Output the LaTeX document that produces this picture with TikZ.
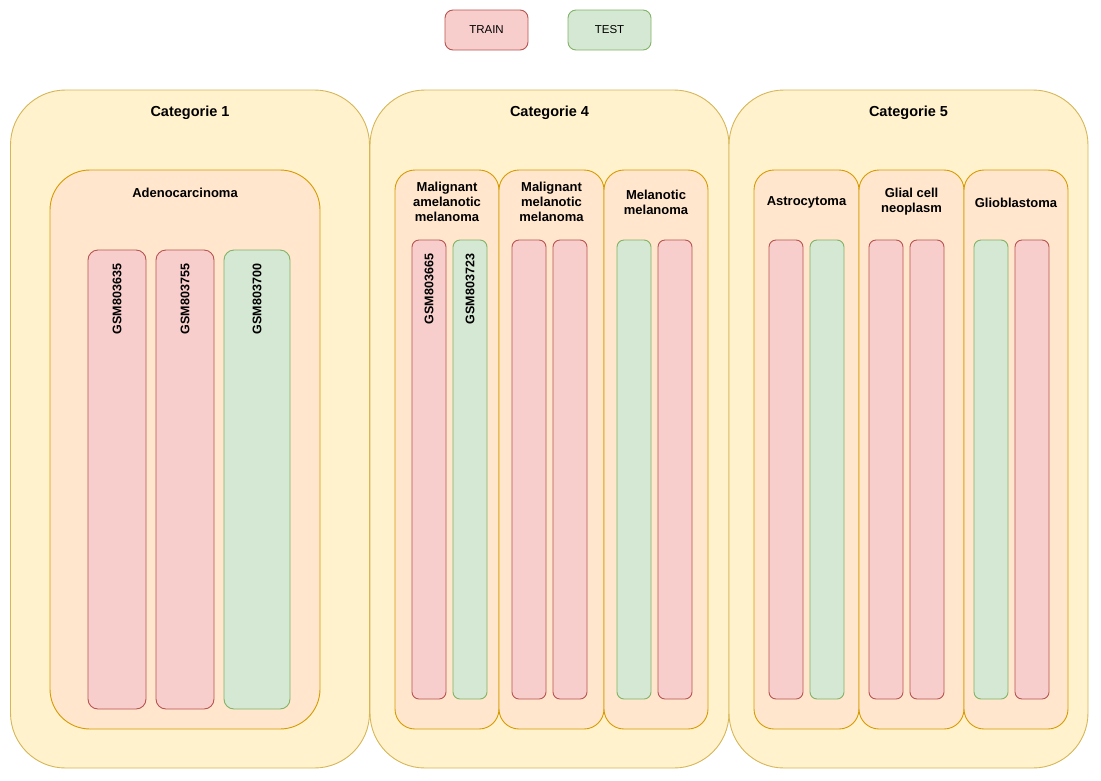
\documentclass[tikz,border=0pt]{standalone}
\usepackage{fontspec}
\setmainfont{Liberation Sans}
\usepackage{tikz}
\usetikzlibrary{calc}
\definecolor{catfill} {HTML} {FFF2CC}
\definecolor{catdraw} {HTML} {D6B656}
\definecolor{grpfill} {HTML} {FFE6CC}
\definecolor{grpdraw} {HTML} {D79B00}
\definecolor{trainfill} {HTML} {F8CECC}
\definecolor{traindraw} {HTML} {B85450}
\definecolor{testfill} {HTML} {D5E8D4}
\definecolor{testdraw} {HTML} {82B366}
\tikzstyle{split}=[
  x=1pt, y=-1pt, line width=0.9pt,
  every node/.style={inner sep=0pt, outer sep=0pt}
]
\tikzstyle{catbox}=[
  draw=catdraw, fill=catfill, rounded corners=55pt,
  minimum width=359pt, minimum height=678pt
]
\tikzstyle{grpbox}=[
  draw=grpdraw, fill=grpfill, rounded corners=20pt,
  minimum width=104pt, minimum height=559pt
]
\tikzstyle{train}=[
  draw=traindraw, fill=trainfill, rounded corners=7pt,
  minimum width=34pt, minimum height=459pt
]
\tikzstyle{test}=[
  train, draw=testdraw, fill=testfill
]
\tikzstyle{cattitle}=[
  font=\fontsize{14.5}{17}\selectfont\bfseries, yshift=-2pt
]
\tikzstyle{grptitle}=[
  font=\fontsize{13}{15}\selectfont\bfseries, align=center, yshift=-1.5pt
]
\tikzstyle{sample}=[
  font=\fontsize{12.5}{14}\selectfont\bfseries, rotate=90, anchor=east
]
\tikzstyle{legend}=[
  rounded corners=8pt, minimum width=83pt, minimum height=40pt,
  font=\fontsize{11.5}{14}\selectfont
]

\begin{document}
\begin{tikzpicture}[split]
\useasboundingbox (0,0) rectangle (1101,780);

% legend
\node (train) [legend, draw=traindraw, fill=trainfill] at (486.5, 30) {TRAIN};
\node (test) [legend, draw=testdraw, fill=testfill] at (609.5, 30) {TEST};

% categories
\node (cat1) [catbox] at (190, 429) {};
\node (cat4) [catbox] at (549.5, 429) {};
\node (cat5) [catbox] at (908.5, 429) {};
\node (t1) [cattitle] at ($(cat1.north) + (0, 21)$) {Categorie 1};
\node (t4) [cattitle] at ($(cat4.north) + (0, 21)$) {Categorie 4};
\node (t5) [cattitle] at ($(cat5.north) + (0, 21)$) {Categorie 5};

% categorie 1
\node (adeno) [grpbox, rounded corners=40pt, minimum width=270pt] at (185, 449.5) {};
\node (adeno t) [grptitle] at ($(adeno.north) + (0, 21)$) {Adenocarcinoma};
\node (s1) [train, rounded corners=10pt, minimum width=58pt] at (117, 479.5) {};
\node (s2) [train, rounded corners=10pt, minimum width=58pt] at (185, 479.5) {};
\node (s3) [test, rounded corners=10pt, minimum width=66pt] at (257, 479.5) {};
\node (s1 t) [sample] at ($(s1.north) + (0, 14)$) {GSM803635};
\node (s2 t) [sample] at ($(s2.north) + (0, 14)$) {GSM803755};
\node (s3 t) [sample] at ($(s3.north) + (0, 14)$) {GSM803700};

% categorie 4
\node (mam) [grpbox] at (447, 449.5) {};
\node (mm) [grpbox, minimum width=105pt] at (551.5, 449.5) {};
\node (mel) [grpbox] at (656, 449.5) {};
\node (mam t) [grptitle] at ($(mam.north) + (0, 30)$) {Malignant\\amelanotic\\melanoma};
\node (mm t) [grptitle] at ($(mm.north) + (0, 30)$) {Malignant\\melanotic\\melanoma};
\node (mel t) [grptitle] at ($(mel.north) + (0, 30.5)$) {Melanotic\\melanoma};
\node (b1) [train] at (429, 469.5) {};
\node (b2) [test] at (470, 469.5) {};
\node (b3) [train] at (529, 469.5) {};
\node (b4) [train] at (570, 469.5) {};
\node (b5) [test] at (634, 469.5) {};
\node (b6) [train] at (675, 469.5) {};
\node (b1 t) [sample] at ($(b1.north) + (0, 14)$) {GSM803665};
\node (b2 t) [sample] at ($(b2.north) + (0, 14)$) {GSM803723};

% categorie 5
\node (astro) [grpbox, minimum width=105pt] at (806.5, 449.5) {};
\node (glial) [grpbox, minimum width=105pt] at (911.5, 449.5) {};
\node (gliob) [grpbox] at (1016, 449.5) {};
\node (astro t) [grptitle] at ($(astro.north) + (0, 31)$) {Astrocytoma};
\node (glial t) [grptitle] at ($(glial.north) + (0, 30.5)$) {Glial cell\\neoplasm};
\node (gliob t) [grptitle] at ($(gliob.north) + (0, 31)$) {Glioblastoma};
\node (c1) [train] at (786, 469.5) {};
\node (c2) [test] at (827, 469.5) {};
\node (c3) [train] at (886, 469.5) {};
\node (c4) [train] at (927, 469.5) {};
\node (c5) [test] at (991, 469.5) {};
\node (c6) [train] at (1032, 469.5) {};
\end{tikzpicture}
\end{document}
